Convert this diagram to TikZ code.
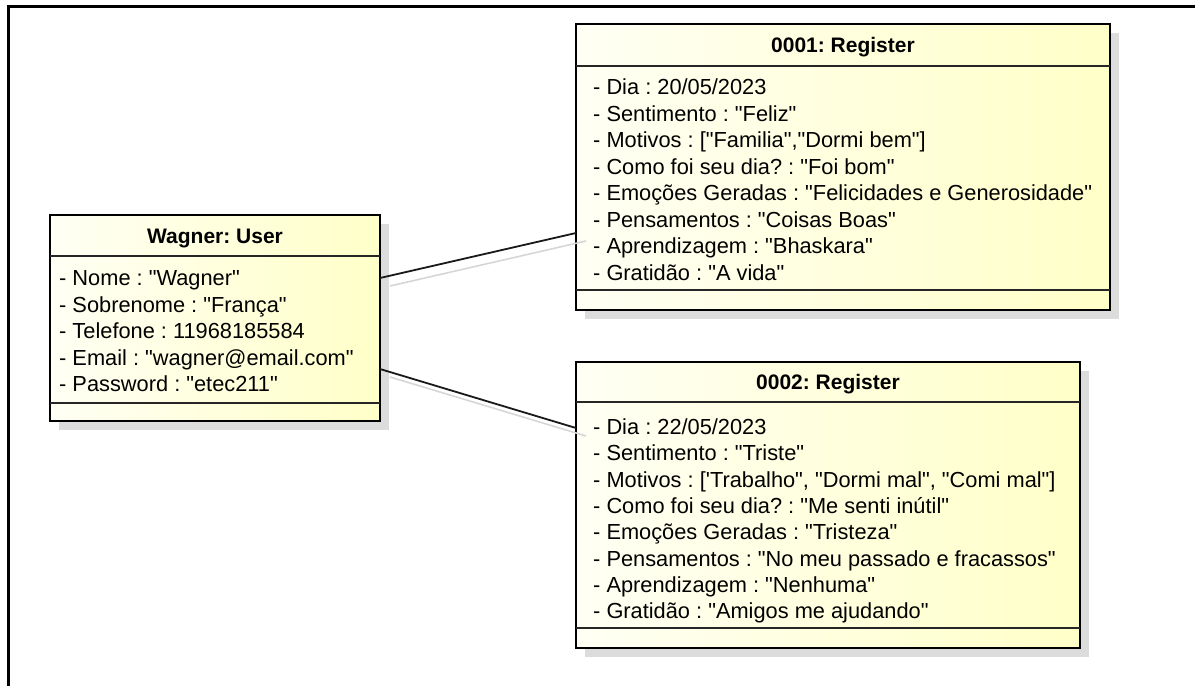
\documentclass[tikz,border=0pt]{standalone}
\usepackage{fontspec}
\setmainfont{Liberation Sans}[Ligatures=TeXOff]
\usetikzlibrary{calc}

\definecolor{boxlight}{RGB}{255,255,244}
\definecolor{boxyellow}{RGB}{255,255,200}
\definecolor{shadowgray}{RGB}{220,220,220}
\definecolor{linkshadow}{RGB}{214,214,214}

\tikzset{
  objbox/.style={draw=black, line width=2.8pt, left color=boxlight, right color=boxyellow,
                 anchor=north west, inner sep=0pt, outer sep=0pt},
  boxshadow/.style={fill=shadowgray, draw=none},
  sepline/.style={draw=black!85, line width=1.4pt},
  attr/.style={anchor=base west, inner sep=0pt, font=\fontsize{21.8}{26}\selectfont\frenchspacing},
  objtitle/.style={anchor=base, inner sep=0pt, font=\fontsize{21}{26}\selectfont\bfseries\frenchspacing},
  link/.style={draw=black!90, line width=1.8pt},
  linkshade/.style={draw=linkshadow, line width=1.6pt},
  frameline/.style={draw=black, line width=2.6pt},
}

\begin{document}
\begin{tikzpicture}[x=1pt, y=-1pt]
  \useasboundingbox (0,0) rectangle (1195,686);

  % diagram frame
  \draw[frameline] (8.3,686) -- (8.3,6.7) -- (1195,6.7);

  % drop shadows of the objects
  \fill[boxshadow] (59,224) rectangle (389,430);
  \fill[boxshadow] (585,33) rectangle (1119,319);
  \fill[boxshadow] (585,371) rectangle (1089,657);

  % object Wagner: User
  \node[objbox, minimum width=330pt, minimum height=206pt] (user) at (50,215) {};
  \draw[sepline] (user.west |- 0,256) -- (user.east |- 0,256);
  \draw[sepline] (user.west |- 0,403) -- (user.east |- 0,403);
  \node[objtitle] (user-t) at ($(user.north)+(0,28)$) {Wagner: User};
  \foreach \t [count=\i from 0] in {
      - Nome : "Wagner",
      - Sobrenome : "França",
      - Telefone : 11968185584,
      - Email : "wagner@email.com",
      - Password : "etec211"}
    \node[attr] (user-a\i) at ($(user.north west)+(9,70.5+26.5*\i)$) {\t};

  % object 0001: Register
  \node[objbox, minimum width=534pt, minimum height=286pt] (r1) at (576,24) {};
  \draw[sepline] (r1.west |- 0,66) -- (r1.east |- 0,66);
  \draw[sepline] (r1.west |- 0,290) -- (r1.east |- 0,290);
  \node[objtitle] (r1-t) at ($(r1.north)+(0,28.5)$) {0001: Register};
  \foreach \t [count=\i from 0] in {
      - Dia : 20/05/2023,
      - Sentimento : "Feliz",
      {- Motivos : ["Familia","Dormi bem"]},
      - Como foi seu dia? : "Foi bom",
      - Emoções Geradas : "Felicidades e Generosidade",
      - Pensamentos : "Coisas Boas",
      - Aprendizagem : "Bhaskara",
      - Gratidão : "A vida"}
    \node[attr] (r1-a\i) at ($(r1.north west)+(17,70.5+26.5*\i)$) {\t};

  % object 0002: Register
  \node[objbox, minimum width=504pt, minimum height=286pt] (r2) at (576,362) {};
  \draw[sepline] (r2.west |- 0,402) -- (r2.east |- 0,402);
  \draw[sepline] (r2.west |- 0,628) -- (r2.east |- 0,628);
  \node[objtitle] (r2-t) at ($(r2.north)+(0,27.5)$) {0002: Register};
  \foreach \t [count=\i from 0] in {
      - Dia : 22/05/2023,
      - Sentimento : "Triste",
      {- Motivos : ['Trabalho", "Dormi mal", "Comi mal"]},
      - Como foi seu dia? : "Me senti inútil",
      - Emoções Geradas : "Tristeza",
      - Pensamentos : "No meu passado e fracassos",
      - Aprendizagem : "Nenhuma",
      - Gratidão : "Amigos me ajudando"}
    \node[attr] (r2-a\i) at ($(r2.north west)+(17,72.5+26.3*\i)$) {\t};

  % link ends on the object borders
  \coordinate (u1) at (user.east |- 0,278);
  \coordinate (u2) at (user.east |- 0,369);
  \coordinate (p1) at (r1.west |- 0,233);
  \coordinate (p2) at (r2.west |- 0,428);

  % links
  \draw[link] (u1) -- (p1);
  \draw[link] (u2) -- (p2);
  \draw[linkshade] ($(u1)+(10,8)$) -- ($(p1)+(10,8)$);
  \draw[linkshade] ($(u2)+(10,8)$) -- ($(p2)+(10,8)$);
\end{tikzpicture}
\end{document}
